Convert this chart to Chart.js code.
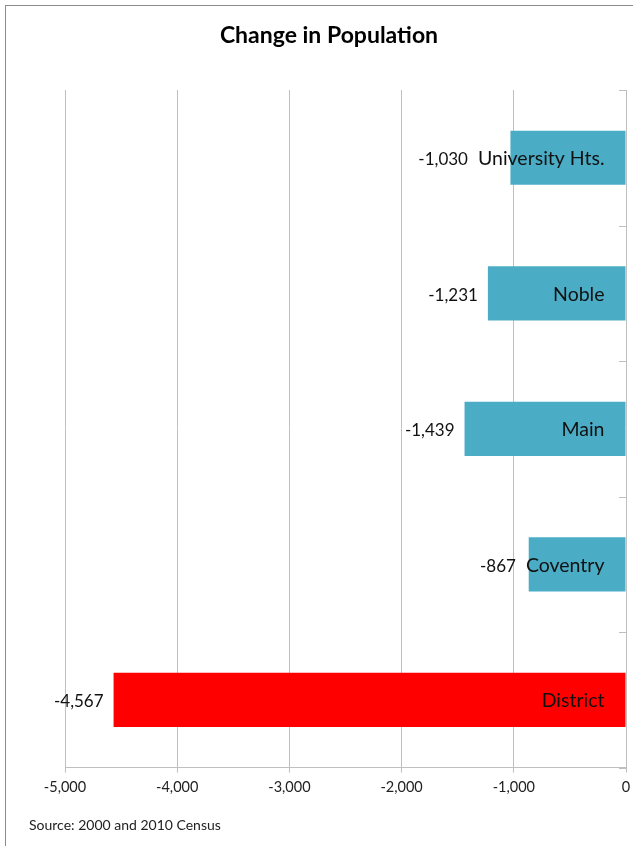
<!DOCTYPE html>
<html>
<head>
<meta charset="utf-8">
<script src="https://cdn.jsdelivr.net/npm/chart.js@4.4.1/dist/chart.umd.min.js"></script>
<style>
  body { margin: 0; background: #fff; font-family: Lato, sans-serif; }
  #wrap { position: relative; width: 633px; height: 846px; overflow: hidden; }
  #frame { position: absolute; left: 5px; top: 5px; width: 700px; height: 860px; border: 1px solid #8c8c8c; box-sizing: border-box; }
  #title { position: absolute; top: 20px; left: 0; width: 658px; text-align: center; font-weight: bold; font-size: 23px; color: #000; }
  #source { position: absolute; left: 29px; top: 816px; font-size: 14px; color: #222; }
  #c { position: absolute; left: 0; top: 0; }
</style>
</head>
<body>
<div id="wrap">
  <div id="frame"></div>
  <canvas id="c" width="633" height="846"></canvas>
  <div id="title">Change in Population</div>
  <div id="source">Source: 2000 and 2010 Census</div>
</div>
<script>
const areas = ['University Hts.', 'Noble', 'Main', 'Coventry', 'District'];
const change = [-1030, -1231, -1439, -867, -4567];
const barColors = ['#4BACC6', '#4BACC6', '#4BACC6', '#4BACC6', '#FF0000'];
const xTicks = [-5000, -4000, -3000, -2000, -1000, 0];

const fmt = v => v.toLocaleString('en-US');

// category name inside the bar near zero, value just past the bar end
const barLabels = {
  id: 'barLabels',
  afterDatasetsDraw(chart) {
    const ctx = chart.ctx;
    const meta = chart.getDatasetMeta(0);
    ctx.save();
    ctx.textBaseline = 'middle';
    ctx.fillStyle = '#111';
    meta.data.forEach((bar, i) => {
      ctx.font = '19.5px Lato, sans-serif';
      ctx.textAlign = 'right';
      const catRight = bar.base - 21;
      ctx.fillText(areas[i], catRight, bar.y + 1);
      const catLeft = catRight - ctx.measureText(areas[i]).width;
      ctx.font = '17px Lato, sans-serif';
      const valRight = Math.min(bar.x - 10, catLeft - 10);
      ctx.fillText(fmt(change[i]), valRight, bar.y + 2);
    });
    ctx.restore();
  }
};

// small tick marks on the zero axis between categories
const catTicks = {
  id: 'catTicks',
  afterDatasetsDraw(chart) {
    const ctx = chart.ctx;
    const y = chart.scales.y;
    const x0 = chart.scales.x.getPixelForValue(0);
    const step = (y.getPixelForValue(1) - y.getPixelForValue(0));
    ctx.save();
    ctx.strokeStyle = '#bfbfbf';
    ctx.lineWidth = 1;
    for (let i = 0; i <= areas.length; i++) {
      const py = Math.round(y.getPixelForValue(i) - step / 2) + 0.5;
      ctx.beginPath();
      ctx.moveTo(x0 - 7, py);
      ctx.lineTo(x0, py);
      ctx.stroke();
    }
    ctx.restore();
  }
};

new Chart(document.getElementById('c'), {
  type: 'bar',
  data: {
    labels: areas,
    datasets: [{
      data: change,
      backgroundColor: barColors,
      borderWidth: 0,
      barPercentage: 0.4,
      categoryPercentage: 1
    }]
  },
  options: {
    responsive: false,
    animation: false,
    indexAxis: 'y',
    layout: { padding: { top: 90, left: 65, right: 7, bottom: 44 } },
    plugins: {
      legend: { display: false },
      tooltip: { enabled: false }
    },
    scales: {
      x: {
        min: -5000,
        max: 0,
        afterBuildTicks: axis => { axis.ticks = xTicks.map(v => ({ value: v })); },
        afterFit: axis => { axis.paddingLeft = 0; axis.paddingRight = 0; },
        grid: { color: '#bfbfbf', tickLength: 5 },
        border: { color: '#bfbfbf' },
        ticks: {
          color: '#222',
          font: { family: 'Lato', size: 14.5 },
          padding: 6,
          maxRotation: 0,
          callback: v => fmt(v)
        }
      },
      y: {
        display: false
      }
    }
  },
  plugins: [barLabels, catTicks]
});
</script>
</body>
</html>
